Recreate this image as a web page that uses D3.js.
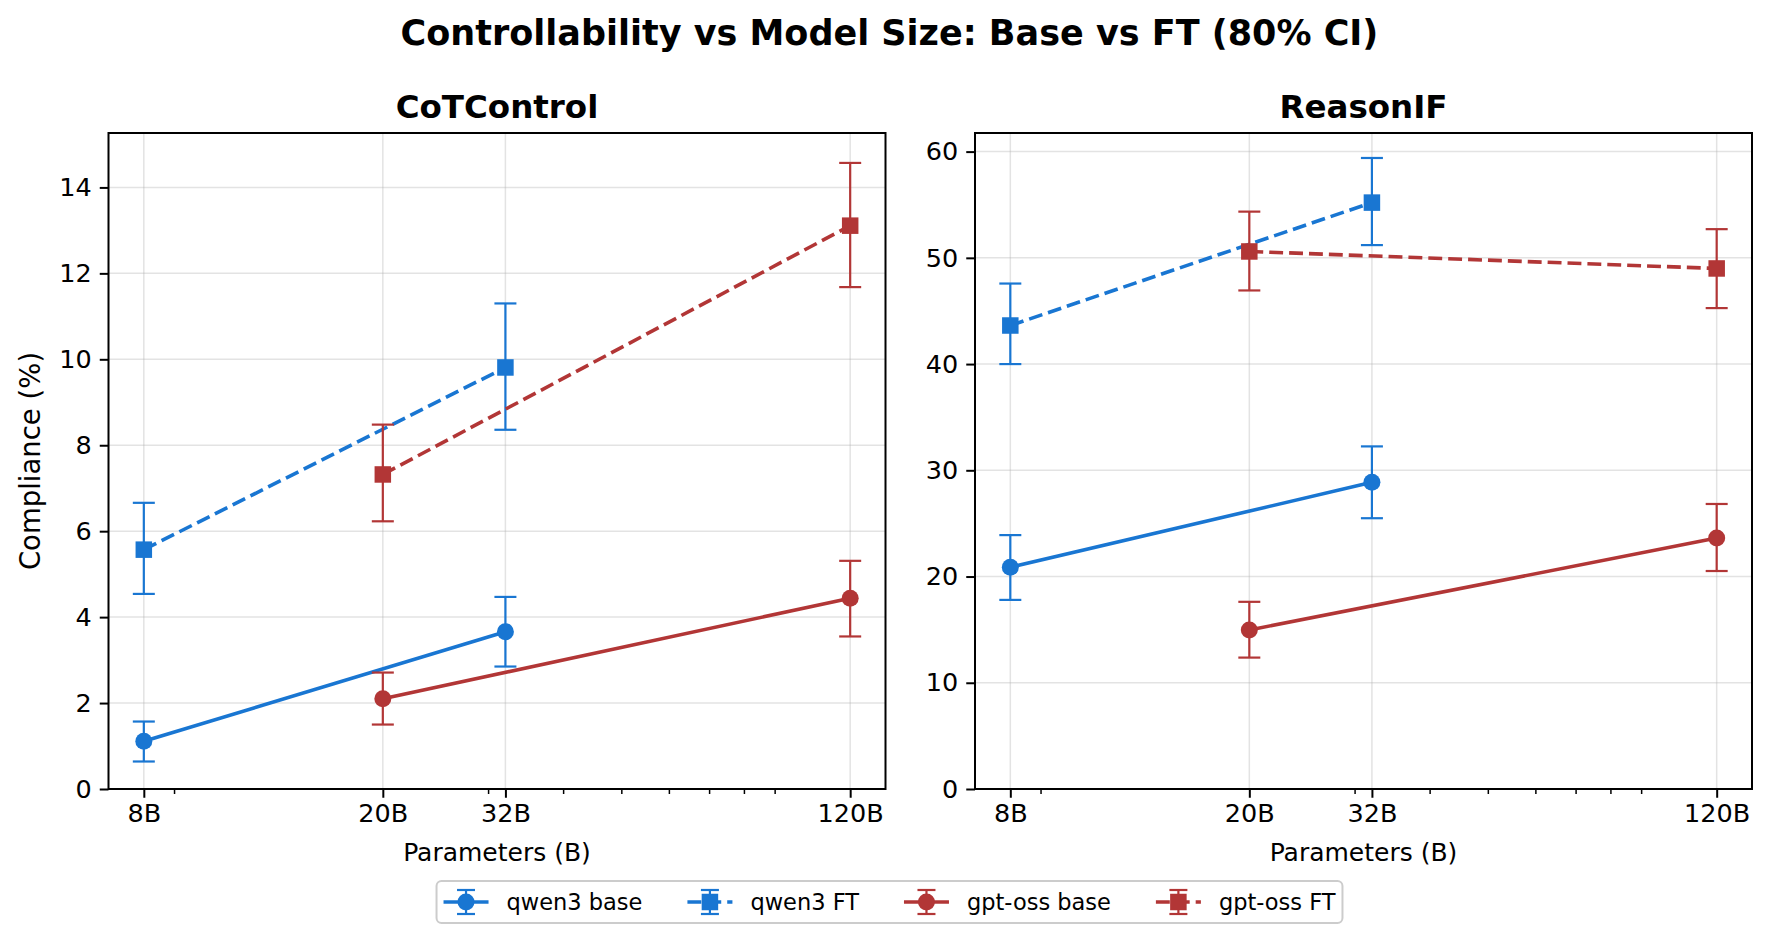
<!DOCTYPE html>
<html>
<head>
<meta charset="utf-8">
<title>Controllability vs Model Size</title>
<script src="https://cdn.jsdelivr.net/npm/d3@7"></script>
<style>
    body { margin: 0; background: #fff; }
    svg { display: block; font-family: "DejaVu Sans", sans-serif; }
</style>
</head>
<body>
<svg id="chart" width="1771" height="942"></svg>
<script>
// model sizes (B) and their tick labels
var sizes = [8, 20, 32, 120];
var sizeLabels = ["8B", "20B", "32B", "120B"];
var minorTicks = [9, 30, 40, 50, 60, 70, 80, 90];

var panelTitles = ["CoTControl", "ReasonIF"];
var seriesNames = ["qwen3 base", "qwen3 FT", "gpt-oss base", "gpt-oss FT"];

var qwenSizes = [8, 32];
var gptSizes = [20, 120];

// CoTControl compliance (%) with 80% CI
var cotQwenBase = [1.11, 3.66],   cotQwenBaseLo = [0.64, 2.85],  cotQwenBaseHi = [1.57, 4.47];
var cotQwenFT   = [5.57, 9.81],   cotQwenFTLo   = [4.54, 8.36],  cotQwenFTHi   = [6.66, 11.3];
var cotGptBase  = [2.10, 4.44],   cotGptBaseLo  = [1.50, 3.55],  cotGptBaseHi  = [2.71, 5.31];
var cotGptFT    = [7.32, 13.11],  cotGptFTLo    = [6.23, 11.68], cotGptFTHi    = [8.48, 14.57];

// ReasonIF compliance (%) with 80% CI
var rifQwenBase = [20.88, 28.87], rifQwenBaseLo = [17.8, 25.49], rifQwenBaseHi = [23.9, 32.25];
var rifQwenFT   = [43.63, 55.2],  rifQwenFTLo   = [40.0, 51.2],  rifQwenFTHi   = [47.58, 59.4];
var rifGptBase  = [14.97, 23.62], rifGptBaseLo  = [12.37, 20.52], rifGptBaseHi = [17.62, 26.83];
var rifGptFT    = [50.6, 49.0],   rifGptFTLo    = [46.93, 45.27], rifGptFTHi   = [54.35, 52.7];

var yTicksCot = [0, 2, 4, 6, 8, 10, 12, 14];
var yTicksRif = [0, 10, 20, 30, 40, 50, 60];

var BLUE = "#1976d2", RED = "#b23636";

// series styles
var styles = [
    {color: BLUE, marker: "circle", dash: null},
    {color: BLUE, marker: "square", dash: "13.9,6"},
    {color: RED, marker: "circle", dash: null},
    {color: RED, marker: "square", dash: "13.9,6"}
];

function build(xs, mean, lo, hi) {
    return xs.map(function (x, i) { return {x: x, y: mean[i], lo: lo[i], hi: hi[i]}; });
}

var panels = [
    {
        title: panelTitles[0], ticks: yTicksCot, left: 108.5, right: 885.5,
        series: [
            build(qwenSizes, cotQwenBase, cotQwenBaseLo, cotQwenBaseHi),
            build(qwenSizes, cotQwenFT, cotQwenFTLo, cotQwenFTHi),
            build(gptSizes, cotGptBase, cotGptBaseLo, cotGptBaseHi),
            build(gptSizes, cotGptFT, cotGptFTLo, cotGptFTHi)
        ]
    },
    {
        title: panelTitles[1], ticks: yTicksRif, left: 975, right: 1752,
        series: [
            build(qwenSizes, rifQwenBase, rifQwenBaseLo, rifQwenBaseHi),
            build(qwenSizes, rifQwenFT, rifQwenFTLo, rifQwenFTHi),
            build(gptSizes, rifGptBase, rifGptBaseLo, rifGptBaseHi),
            build(gptSizes, rifGptFT, rifGptFTLo, rifGptFTHi)
        ]
    }
];

var TOP = 133, BOTTOM = 789, CENTER = 889.5;
var svg = d3.select("#chart");

// figure title
svg.append("text")
    .attr("x", CENTER).attr("y", 45)
    .attr("text-anchor", "middle")
    .attr("font-size", 35).attr("font-weight", "bold")
    .text("Controllability vs Model Size: Base vs FT (80% CI)");

// log x domain with 5% margins like matplotlib
var lmin = Math.log10(d3.min(sizes)), lmax = Math.log10(d3.max(sizes));
var lpad = 0.05 * (lmax - lmin);
var xDomain = [Math.pow(10, lmin - lpad), Math.pow(10, lmax + lpad)];

function drawMarker(g, type, cx, cy, color, size) {
    if (type === "circle") {
        g.append("circle").attr("cx", cx).attr("cy", cy).attr("r", size / 2).attr("fill", color);
    } else {
        g.append("rect").attr("x", cx - size / 2).attr("y", cy - size / 2)
            .attr("width", size).attr("height", size).attr("fill", color);
    }
}

panels.forEach(function (p, pi) {
    var x = d3.scaleLog().domain(xDomain).range([p.left, p.right]);

    var all = [];
    p.series.forEach(function (s) { s.forEach(function (d) { all.push(d); }); });
    var yMax = d3.max(all, function (d) { return d.hi; });
    var yMin = d3.min(all, function (d) { return d.lo; });
    var y = d3.scaleLinear().domain([0, yMax + 0.05 * (yMax - yMin)]).range([BOTTOM, TOP]);

    var g = svg.append("g");

    // grid
    g.selectAll(".gx").data(sizes).enter().append("line")
        .attr("x1", function (d) { return x(d); }).attr("x2", function (d) { return x(d); })
        .attr("y1", TOP).attr("y2", BOTTOM)
        .attr("stroke", "#b0b0b0").attr("stroke-opacity", 0.35).attr("stroke-width", 1.5);
    g.selectAll(".gy").data(p.ticks).enter().append("line")
        .attr("x1", p.left).attr("x2", p.right)
        .attr("y1", function (d) { return y(d); }).attr("y2", function (d) { return y(d); })
        .attr("stroke", "#b0b0b0").attr("stroke-opacity", 0.35).attr("stroke-width", 1.5);

    // x axis
    var xAxis = d3.axisBottom(x).tickValues(sizes)
        .tickFormat(function (d, i) { return sizeLabels[i]; })
        .tickSize(8.75).tickPadding(6);
    var xa = g.append("g").attr("transform", "translate(0," + BOTTOM + ")").call(xAxis);
    xa.select(".domain").remove();
    xa.selectAll("line").attr("stroke-width", 2);
    xa.selectAll("text").attr("font-size", 25.5).attr("font-family", "DejaVu Sans").attr("fill", "#000");

    g.selectAll(".minor").data(minorTicks).enter().append("line")
        .attr("x1", function (d) { return x(d); }).attr("x2", function (d) { return x(d); })
        .attr("y1", BOTTOM).attr("y2", BOTTOM + 5)
        .attr("stroke", "#000").attr("stroke-width", 1.5);

    // y axis
    var yAxis = d3.axisLeft(y).tickValues(p.ticks).tickFormat(d3.format("d"))
        .tickSize(8.75).tickPadding(8);
    var ya = g.append("g").attr("transform", "translate(" + p.left + ",0)").call(yAxis);
    ya.select(".domain").remove();
    ya.selectAll("line").attr("stroke-width", 2);
    ya.selectAll("text").attr("font-size", 25.5).attr("font-family", "DejaVu Sans").attr("fill", "#000");

    // axis labels
    g.append("text")
        .attr("x", (p.left + p.right) / 2).attr("y", 861)
        .attr("text-anchor", "middle").attr("font-size", 25)
        .text("Parameters (B)");
    if (pi === 0) {
        g.append("text")
            .attr("transform", "translate(40," + ((TOP + BOTTOM) / 2) + ") rotate(-90)")
            .attr("text-anchor", "middle").attr("font-size", 27.5)
            .text("Compliance (%)");
    }

    // subplot title
    g.append("text")
        .attr("x", (p.left + p.right) / 2).attr("y", 118)
        .attr("text-anchor", "middle").attr("font-size", 32.5).attr("font-weight", "bold")
        .text(p.title);

    // series
    var line = d3.line().x(function (d) { return x(d.x); }).y(function (d) { return y(d.y); });
    p.series.forEach(function (s, si) {
        var st = styles[si];
        var sg = g.append("g");
        s.forEach(function (d) {
            var cx = x(d.x);
            sg.append("line").attr("x1", cx).attr("x2", cx)
                .attr("y1", y(d.lo)).attr("y2", y(d.hi))
                .attr("stroke", st.color).attr("stroke-width", 2.2);
            [d.lo, d.hi].forEach(function (v) {
                sg.append("line").attr("x1", cx - 11).attr("x2", cx + 11)
                    .attr("y1", y(v)).attr("y2", y(v))
                    .attr("stroke", st.color).attr("stroke-width", 2.2);
            });
        });
        sg.append("path").datum(s).attr("d", line)
            .attr("fill", "none").attr("stroke", st.color).attr("stroke-width", 3.6)
            .attr("stroke-dasharray", st.dash);
        s.forEach(function (d) {
            drawMarker(sg, st.marker, x(d.x), y(d.y), st.color, st.marker === "circle" ? 17 : 16.5);
        });
    });

    // frame
    g.append("rect")
        .attr("x", p.left).attr("y", TOP)
        .attr("width", p.right - p.left).attr("height", BOTTOM - TOP)
        .attr("fill", "none").attr("stroke", "#000").attr("stroke-width", 2);
});

// legend
var FS = 22.5, HL = 45, HPAD = 18, CSP = 45, BPAD = 7;
var lg = svg.append("g");
var frame = lg.append("rect");
var items = lg.append("g");
var cx0 = 0;
var ly = 902;
seriesNames.forEach(function (name, i) {
    var st = styles[i];
    var ig = items.append("g").attr("transform", "translate(" + cx0 + ",0)");
    ig.append("line").attr("x1", 0).attr("x2", HL).attr("y1", ly).attr("y2", ly)
        .attr("stroke", st.color).attr("stroke-width", 3.6).attr("stroke-dasharray", st.dash);
    ig.append("line").attr("x1", HL / 2).attr("x2", HL / 2).attr("y1", ly - 12).attr("y2", ly + 12)
        .attr("stroke", st.color).attr("stroke-width", 2.2);
    [ly - 12, ly + 12].forEach(function (v) {
        ig.append("line").attr("x1", HL / 2 - 9).attr("x2", HL / 2 + 9).attr("y1", v).attr("y2", v)
            .attr("stroke", st.color).attr("stroke-width", 2.2);
    });
    drawMarker(ig, st.marker, HL / 2, ly, st.color, st.marker === "circle" ? 17 : 16.5);
    var t = ig.append("text").attr("x", HL + HPAD).attr("y", ly + 8)
        .attr("font-size", FS).text(name);
    var w = t.node().getComputedTextLength();
    cx0 += HL + HPAD + w + CSP;
});
var totalW = cx0 - CSP;
var startX = CENTER - totalW / 2;
items.attr("transform", "translate(" + startX + ",0)");
frame.attr("x", startX - BPAD).attr("y", 881)
    .attr("width", totalW + 2 * BPAD).attr("height", 42)
    .attr("rx", 5).attr("ry", 5)
    .attr("fill", "#fff").attr("fill-opacity", 0.8)
    .attr("stroke", "#cccccc").attr("stroke-width", 2);
</script>
</body>
</html>
